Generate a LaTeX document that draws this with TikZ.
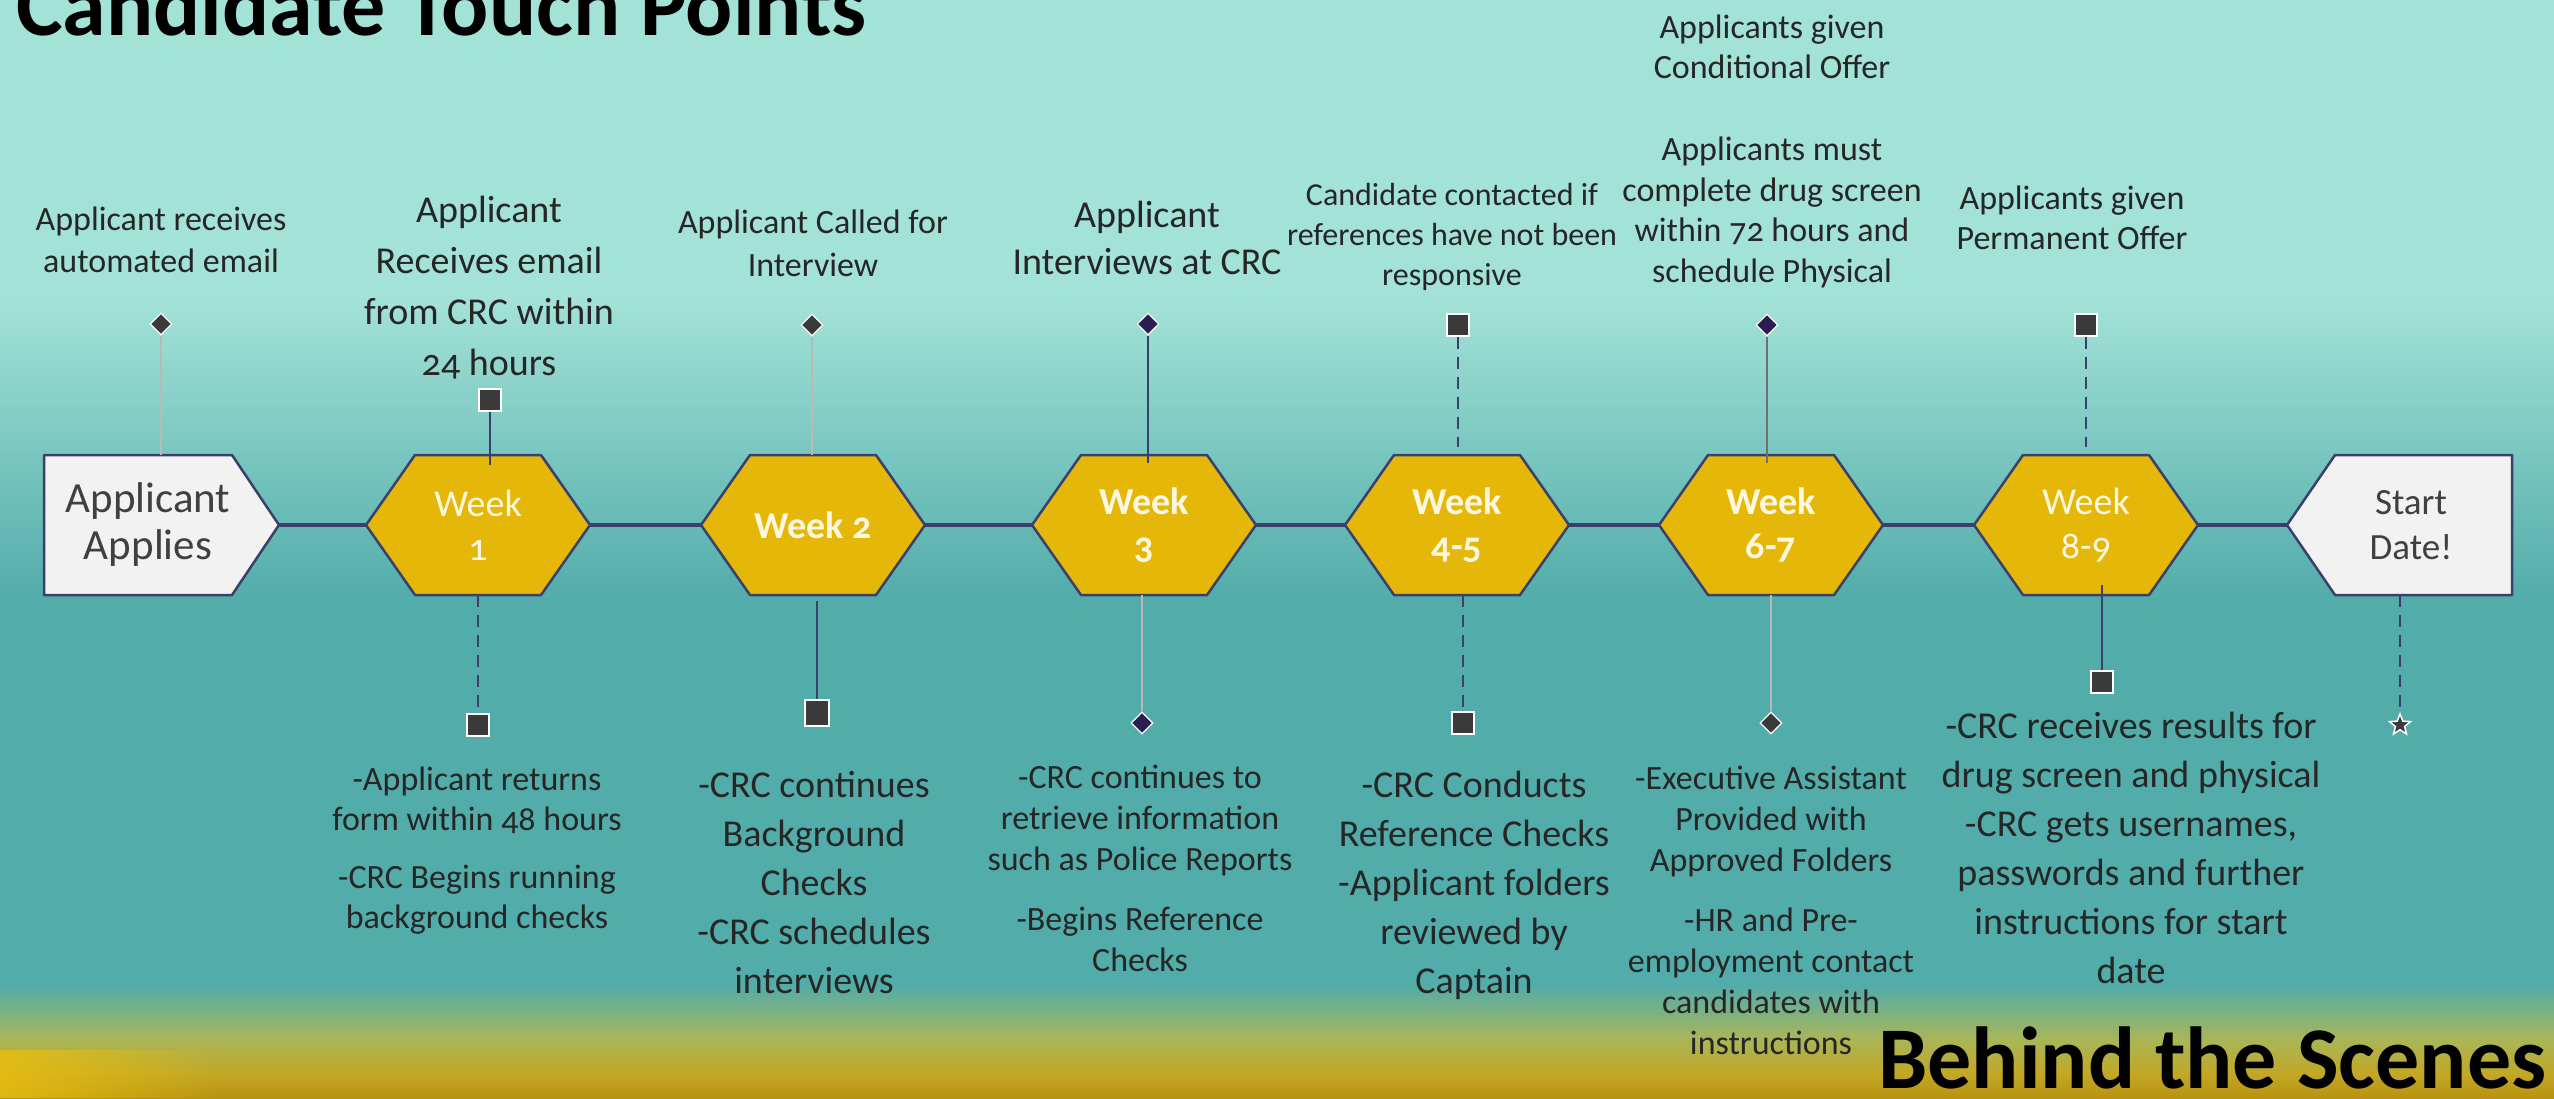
\documentclass[tikz,border=0pt]{standalone}
\usepackage{fontspec}
\setmainfont{Carlito}[Numbers=OldStyle]
\usetikzlibrary{shapes.geometric,fadings}
\definecolor{mint}{HTML}{A3E2D7}
\definecolor{teal}{HTML}{52ACAA}
\definecolor{oliveA}{HTML}{A9B657}
\definecolor{goldB}{HTML}{C3A725}
\definecolor{goldC}{HTML}{B8930F}
\definecolor{brightY}{HTML}{E8BE10}
\definecolor{hexgold}{HTML}{E5B708}
\definecolor{navy}{HTML}{3A3F6C}
\definecolor{pentfill}{HTML}{F2F2F2}
\definecolor{markc}{HTML}{3A3A3A}
\definecolor{purp}{HTML}{2B1D52}
\definecolor{lgray}{HTML}{B9B9B9}
\definecolor{dgray}{HTML}{707070}
\definecolor{txt}{HTML}{262626}
\definecolor{hextxt}{HTML}{FFF8E1}
\definecolor{pentxt}{HTML}{404040}
\begin{document}
\begin{tikzpicture}[x=1bp,y=-1bp,
  hexshape/.style={fill=hexgold, draw=navy, line width=2.5bp, line join=round},
  pentshape/.style={fill=pentfill, draw=navy, line width=2.5bp, line join=round},
  hexnode/.style={rectangle, minimum width=224bp, minimum height=140bp, inner sep=0pt, align=center, text=hextxt, font=\fontsize{38bp}{44bp}\selectfont},
  hexbold/.style={hexnode, font=\fontsize{38bp}{44bp}\selectfont\bfseries},
  pentnode/.style={rectangle, minimum height=140bp, inner sep=0pt, align=center, text=pentxt},
  lbls/.style={align=center, text=txt, inner sep=0pt, anchor=base, font=\fontsize{34bp}{42bp}\selectfont},
  lbll/.style={align=center, text=txt, inner sep=0pt, anchor=base, font=\fontsize{38bp}{49bp}\selectfont},
  sqmark/.style={rectangle, fill=markc, draw=white, line width=1.2bp, minimum size=22bp, inner sep=0pt},
  dmark/.style={diamond, fill=#1, draw=white, line width=1.2bp, minimum width=22bp, minimum height=22bp, inner sep=0pt},
  starmark/.style={star, star points=5, star point ratio=2.3, fill=markc, draw=white, line width=1.5bp, minimum size=22bp, inner sep=0pt},
  mainline/.style={draw=navy, line width=3.5bp},
  navyline/.style={draw=navy, line width=2.5bp},
  navydash/.style={navyline, dash pattern=on 12bp off 8bp},
  grayline/.style={draw=lgray, line width=1.6bp},
  dgrayline/.style={draw=dgray, line width=1.8bp}
]
\useasboundingbox (0,0) rectangle (2554,1098);
\clip (0,0) rectangle (2554,1098);
% background
\fill[mint] (0,0) rectangle (2554,300);
\shade[top color=mint, bottom color=teal] (0,299) rectangle (2554,600);
\fill[teal] (0,599) rectangle (2554,986);
\shade[top color=teal, bottom color=oliveA] (0,985) rectangle (2554,1040);
\shade[top color=oliveA, bottom color=goldB] (0,1039) rectangle (2554,1075);
\shade[top color=goldB, bottom color=goldC] (0,1074) rectangle (2554,1098);
\fill[brightY, path fading=east, opacity=0.85] (0,1050) rectangle (220,1098);
% shapes
\draw[pentshape] (44,455) -- (232,455) -- (279,525) -- (232,595) -- (44,595) -- cycle;
\draw[pentshape] (2287,525) -- (2335,455) -- (2512,455) -- (2512,595) -- (2335,595) -- cycle;
\foreach \c in {478,813,1144,1457,1771,2086}{
  \draw[hexshape] (\c-112,525) -- (\c-63,455) -- (\c+63,455) -- (\c+112,525) -- (\c+63,595) -- (\c-63,595) -- cycle;
}
% nodes
\node[pentnode, minimum width=262bp, font=\fontsize{43bp}{47bp}\selectfont] (aa) at (148,525) {Applicant\\Applies};
\node[hexnode] (w1) at (478,525) {Week\\1};
\node[hexbold] (w2) at (813,525) {Week 2};
\node[hexbold] (w3) at (1144,525) {Week\\3};
\node[hexbold] (w45) at (1457,525) {Week\\4-5};
\node[hexbold] (w67) at (1771,525) {Week\\6-7};
\node[hexnode] (w89) at (2086,525) {Week\\8-9};
\node[pentnode, minimum width=248bp, font=\fontsize{37bp}{45bp}\selectfont] (sd) at (2411,525) {Start\\Date!};
% main line
\draw[mainline] (aa.east) -- (w1.west) (w1.east) -- (w2.west) (w2.east) -- (w3.west)
  (w3.east) -- (w45.west) (w45.east) -- (w67.west) (w67.east) -- (w89.west) (w89.east) -- (sd.west);
% markers
\node[dmark=markc] (t0) at (161,324) {};
\node[sqmark] (t1) at (490,400) {};
\node[sqmark] (b1) at (478,725) {};
\node[dmark=markc] (t2) at (812,325) {};
\node[sqmark, minimum width=24bp, minimum height=26bp] (b2) at (817,713) {};
\node[dmark=purp] (t3) at (1148,324) {};
\node[dmark=purp] (b3) at (1142,723) {};
\node[sqmark] (t45) at (1458,325) {};
\node[sqmark] (b45) at (1463,723) {};
\node[dmark=purp] (t67) at (1767,325) {};
\node[dmark=markc] (b67) at (1771,723) {};
\node[sqmark] (t89) at (2086,325) {};
\node[sqmark] (b89) at (2102,682) {};
\node[starmark] (bsd) at (2400,725) {};
% connectors
\draw[grayline] (t0) -- (t0 |- aa.north);
\draw[navyline, shorten >=-10bp] (t1) -- (t1 |- w1.north);
\draw[navydash] (b1 |- w1.south) -- (b1);
\draw[grayline] (t2) -- (t2 |- w2.north);
\draw[navyline, shorten <=6bp] (b2 |- w2.south) -- (b2);
\draw[navyline, shorten >=-8bp] (t3) -- (t3 |- w3.north);
\draw[grayline] (b3 |- w3.south) -- (b3);
\draw[navydash, shorten >=8bp] (t45) -- (t45 |- w45.north);
\draw[navydash] (b45 |- w45.south) -- (b45);
\draw[dgrayline, shorten >=-8bp] (t67) -- (t67 |- w67.north);
\draw[grayline] (b67 |- w67.south) -- (b67);
\draw[navydash, shorten >=8bp] (t89) -- (t89 |- w89.north);
\draw[navyline, shorten >=-10bp] (b89) -- (b89 |- w89.south);
\draw[navydash] (bsd |- sd.south) -- (bsd);
% top labels (anchor = baseline of last line)
\node[lbls] (l0) at (161,272) {Applicant receives\\automated email};
\node[lbll, font=\fontsize{38bp}{51bp}\selectfont] (l1) at (489,375) {Applicant\\Receives email\\from CRC within\\24 hours};
\node[lbls, font=\fontsize{34bp}{43bp}\selectfont] (l2) at (813,276) {Applicant Called for\\Interview};
\node[lbll, font=\fontsize{38bp}{47bp}\selectfont] (l3) at (1147,274) {Applicant\\Interviews at CRC};
\node[lbls, font=\fontsize{32bp}{40bp}\selectfont] (l45) at (1452,285) {Candidate contacted if\\references have not been\\responsive};
\node[lbls, font=\fontsize{34bp}{40bp}\selectfont] (l67a) at (1772,78) {Applicants given\\Conditional Offer};
\node[lbls, font=\fontsize{34bp}{40.5bp}\selectfont] (l67b) at (1772,282) {Applicants must\\complete drug screen\\within 72 hours and\\schedule Physical};
\node[lbls, font=\fontsize{34bp}{40bp}\selectfont] (l89) at (2072,249) {Applicants given\\Permanent Offer};
% bottom labels
\node[lbls, font=\fontsize{34bp}{40bp}\selectfont] (d1) at (477,928) {-Applicant returns\\form within 48 hours\\[18bp]-CRC Begins running\\background checks};
\node[lbll] (d2) at (814,993) {-CRC continues\\Background\\Checks\\-CRC schedules\\interviews};
\node[lbls, font=\fontsize{34bp}{41bp}\selectfont] (d3) at (1140,971) {-CRC continues to\\retrieve information\\such as Police Reports\\[19bp]-Begins Reference\\Checks};
\node[lbll] (d45) at (1474,993) {-CRC Conducts\\Reference Checks\\-Applicant folders\\reviewed by\\Captain};
\node[lbls, font=\fontsize{34bp}{41bp}\selectfont] (d67) at (1771,1054) {-Executive Assistant\\Provided with\\Approved Folders\\[19bp]-HR and Pre-\\employment contact\\candidates with\\instructions};
\node[lbll, font=\fontsize{38bp}{49bp}\selectfont] (d89) at (2131,983) {-CRC receives results for\\drug screen and physical\\-CRC gets usernames,\\passwords and further\\instructions for start\\date};
% titles
\node[anchor=base west, inner sep=0pt, text=black, font=\fontsize{88bp}{90bp}\selectfont\bfseries] (title) at (16,35) {Candidate Touch Points};
\node[anchor=base west, inner sep=0pt, text=black, font=\fontsize{88bp}{90bp}\selectfont\bfseries] (bts) at (1878,1088) {Behind the Scenes};
\end{tikzpicture}
\end{document}
